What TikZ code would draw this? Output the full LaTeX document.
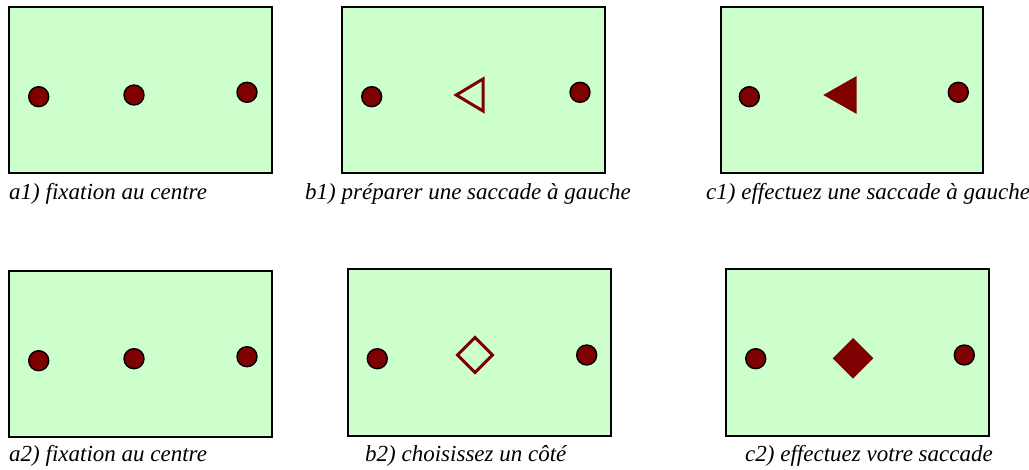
\documentclass[tikz,border=0pt]{standalone}
\usepackage{fontspec}
\setmainfont{Liberation Serif}
\definecolor{panelgreen}{HTML}{CCFFCC}
\definecolor{dotred}{HTML}{7F0000}
\begin{document}
\begin{tikzpicture}[x=1pt,y=-1pt,
  panel/.style={draw=black,line width=2pt,fill=panelgreen},
  dot/.style={circle,draw=black,line width=1.4pt,fill=dotred,minimum size=20pt,inner sep=0pt},
  cue/.style={draw=dotred,line width=3pt,line join=miter},
  cuefill/.style={fill=dotred},
  caption/.style={anchor=base west,inner sep=0pt,font=\fontsize{23}{25}\selectfont\itshape}]
\useasboundingbox (0,0) rectangle (1029,470);
% row 1
\draw[panel] (9,7) rectangle (272,173);
\node[dot] (a1l) at (38.7,96.7) {};
\node[dot] (a1c) at (134,95) {};
\node[dot] (a1r) at (247,92.3) {};
\node[caption] (a1t) at (9,200) {a1) fixation au centre};

\draw[panel] (342,7) rectangle (605,173);
\node[dot] (b1l) at (371.7,96.7) {};
\node[dot] (b1r) at (580,92.3) {};
\draw[cue] (456.3,95) -- (483,79) -- (483,111) -- cycle;
\node[caption] (b1t) at (305,200) {b1) préparer une saccade à gauche};

\draw[panel] (720.7,7) rectangle (982.7,173);
\node[dot] (c1l) at (749.3,96.7) {};
\node[dot] (c1r) at (958.3,92.3) {};
\fill[cuefill] (823.3,95) -- (856.7,76) -- (856.7,114) -- cycle;
\node[caption] (c1t) at (706,200) {c1) effectuez une saccade à gauche};

% row 2
\draw[panel] (9,270.7) rectangle (272,437.3);
\node[dot] (a2l) at (38.7,360.7) {};
\node[dot] (a2c) at (134,358.7) {};
\node[dot] (a2r) at (247,356.7) {};
\node[caption] (a2t) at (9,461.7) {a2) fixation au centre};

\draw[panel] (348,269) rectangle (611,435.7);
\node[dot] (b2l) at (377.3,358.7) {};
\node[dot] (b2r) at (586.7,355) {};
\draw[cue] (475,337.5) -- (492.5,355) -- (475,372.5) -- (457.5,355) -- cycle;
\node[caption] (b2t) at (365,461.7) {b2) choisissez un côté};

\draw[panel] (726.3,269) rectangle (989,435.7);
\node[dot] (c2l) at (755.7,358.7) {};
\node[dot] (c2r) at (964.3,355) {};
\fill[cuefill] (853,338) -- (873.3,358.3) -- (853,378.6) -- (832.7,358.3) -- cycle;
\node[caption] (c2t) at (745,461.7) {c2) effectuez votre saccade};
\end{tikzpicture}
\end{document}
